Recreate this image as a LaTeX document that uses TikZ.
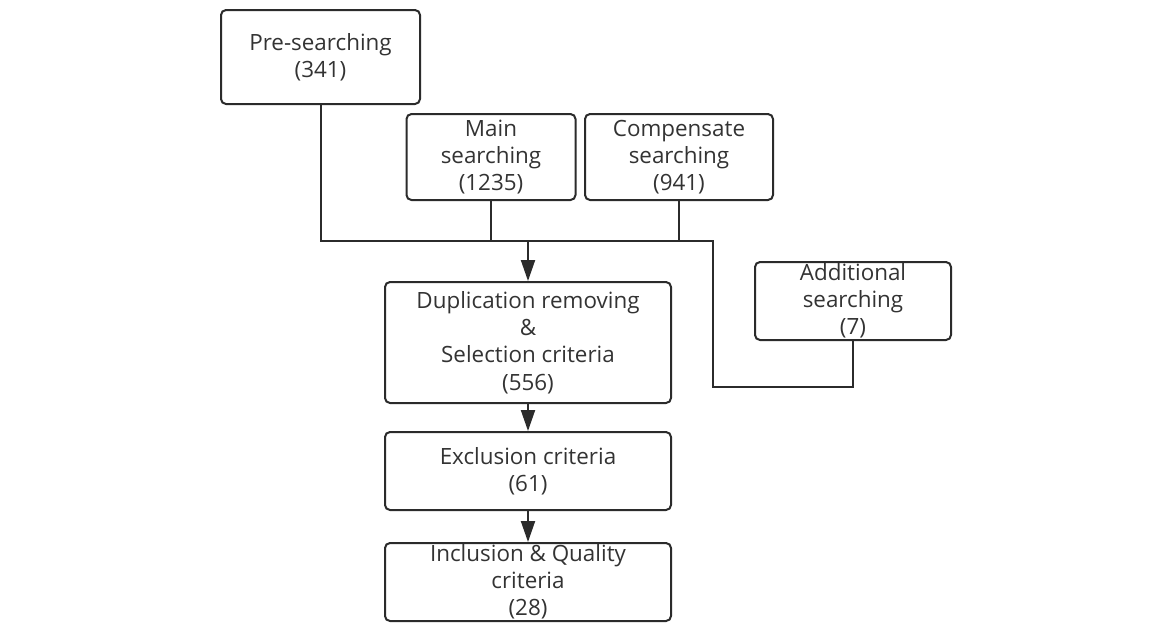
\documentclass[tikz,border=0pt]{standalone}
\usepackage{fontspec}
\setmainfont{Open Sans}
\usetikzlibrary{arrows.meta,positioning}
\definecolor{LineGray}{HTML}{2B2B2B}
\definecolor{TextGray}{HTML}{333333}

\begin{document}
\begin{tikzpicture}[x=.5pt,y=-.5pt,>={Triangle[length=10.5pt,width=7pt]},
  box/.style={draw=LineGray,line width=1pt,rounded corners=2.5pt,align=center,
    text=TextGray,font=\fontsize{11.2}{13.6}\selectfont,inner sep=0pt},
  link/.style={LineGray,line width=1pt}]
  \useasboundingbox (0,0) rectangle (1161,623);
  \node[box,minimum width=99.5pt,minimum height=47pt] (pre) at (320.5,57) {Pre-searching\\(341)};
  \node[box,minimum width=84.5pt,minimum height=43pt] (main) at (491,157) {Main\\searching\\(1235)};
  \node[box,minimum width=94pt,minimum height=43pt] (comp) at (679,157) {Compensate\\searching\\(941)};
  \node[box,minimum width=98pt,minimum height=39pt] (add) at (853,301) {Additional\\searching\\(7)};
  \node[box,minimum width=143pt,minimum height=60.5pt] (dup) at (528,342.5)
    {Duplication removing\\\&\\Selection criteria\\(556)};
  \node[box,minimum width=143pt,minimum height=39pt] (excl) at (528,471) {Exclusion criteria\\(61)};
  \node[box,minimum width=143pt,minimum height=39pt] (incl) at (528,582) {Inclusion \& Quality\\criteria\\(28)};
  \coordinate (bus) at (528,241);
  \coordinate (turn) at (713,387);
  \draw[link] (pre.south) |- (comp.south |- bus) -- (comp.south);
  \draw[link] (main.south) -- (main.south |- bus);
  \draw[link] (add.south) |- (turn) -- (turn |- bus) -- (comp.south |- bus);
  \draw[link,->] (bus) -- (dup.north);
  \draw[link,->] (dup) -- (excl);
  \draw[link,->] (excl) -- (incl);
\end{tikzpicture}
\end{document}
